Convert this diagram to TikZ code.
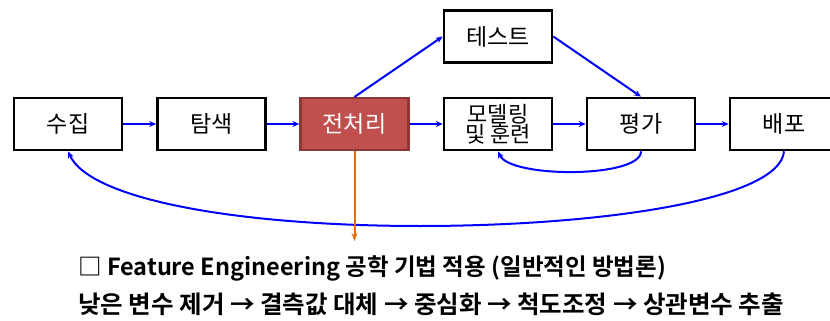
\documentclass[tikz,border=0pt]{standalone}
\usepackage{fontspec}
\newfontfamily\kr{Noto Sans CJK KR}
\newfontfamily\krb{Noto Sans CJK KR Bold}
\usetikzlibrary{arrows.meta}
\definecolor{redfill}{HTML}{C0504D}
\definecolor{reddraw}{HTML}{8C3836}
\definecolor{flowblue}{HTML}{0000FF}
\definecolor{orangeline}{HTML}{E46C0A}
\tikzset{
  stepbox/.style={draw=black, line width=2.6pt, fill=white, minimum width=108pt, minimum height=52pt, inner sep=0pt, font=\kr\fontsize{23}{25}\selectfont, align=center},
  redbox/.style={stepbox, fill=redfill, draw=reddraw, line width=2.2pt, text=white},
  flow/.style={draw=flowblue, line width=2pt, -{Stealth[length=7pt,width=6pt]}},
  orangeflow/.style={draw=orangeline, line width=2pt, -{Stealth[length=8pt,width=6pt]}},
  linetext/.style={anchor=west, inner sep=0pt, font=\krb\fontsize{23.5}{25}\selectfont}
}
\begin{document}
\begin{tikzpicture}[x=1pt,y=-1pt]
\useasboundingbox (0,0) rectangle (830,321);
\node[stepbox] (sujip) at (68,124) {수집};
\node[stepbox] (tamsaek) at (211.5,124) {탐색};
\node[redbox] (jeon) at (354.5,124) {전처리};
\node[stepbox] (test) at (498,36.5) {테스트};
\node[stepbox, font=\kr\fontsize{22}{22}\selectfont] (model) at (498,124) {모델링\\[-2pt]및 훈련};
\node[stepbox] (pyeong) at (641,124) {평가};
\node[stepbox] (baepo) at (784,124) {배포};
\coordinate (orangeend) at (354.5,241);
\coordinate (loopmid) at (420,226);

\draw[flow] (sujip) -- (tamsaek);
\draw[flow] (tamsaek) -- (jeon);
\draw[flow] (jeon) -- (model);
\draw[flow] (model) -- (pyeong);
\draw[flow] (pyeong) -- (baepo);
\draw[flow] (jeon.north) -- (test.west);
\draw[flow] (test.east) -- (pyeong.north);
\draw[flow] (pyeong.south) .. controls +(0,27) and +(12,27) .. (model.south);
\draw[flow] (baepo.south) .. controls (780,200) and (600,226) .. (loopmid) .. controls (240,226) and (90,200) .. (sujip.south);
\draw[orangeflow] (jeon.south) -- (orangeend);

\node[linetext] (line1) at (78,268) {□ Feature Engineering 공학 기법 적용 (일반적인 방법론)};
\node[linetext, font=\krb\fontsize{24.5}{26}\selectfont] (line2) at (78,304) {낮은 변수 제거 → 결측값 대체 → 중심화 → 척도조정 → 상관변수 추출};
\end{tikzpicture}
\end{document}
